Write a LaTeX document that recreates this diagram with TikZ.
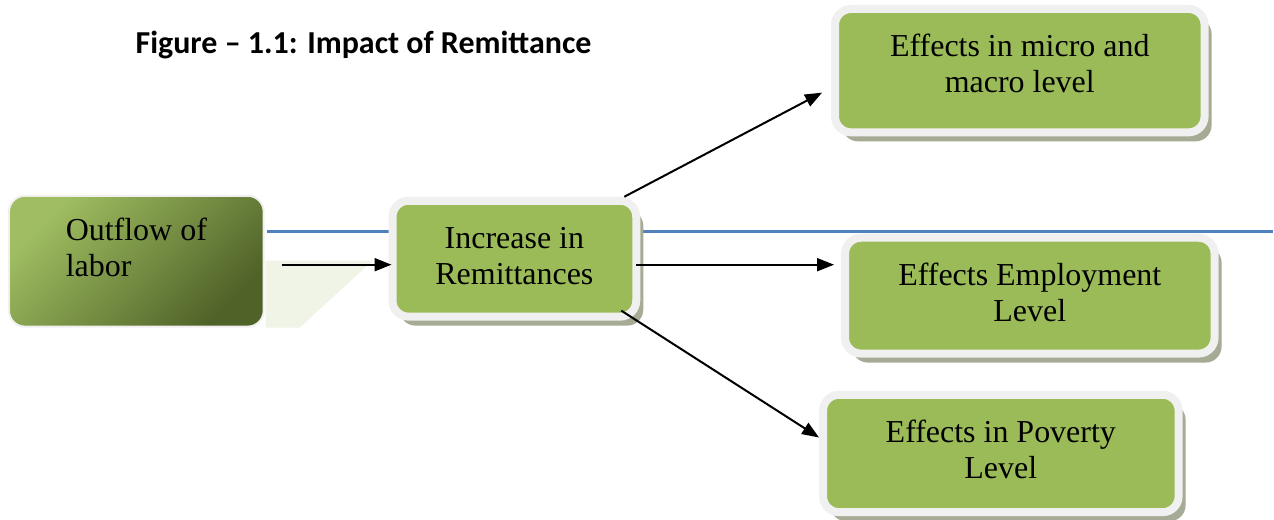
\documentclass[tikz,border=0pt]{standalone}
\usepackage{fontspec}
\setmainfont{Liberation Serif}
\newfontfamily\capfont{Carlito}
\usetikzlibrary{arrows.meta, shadows}

\definecolor{boxgreen}{RGB}{155,187,89}
\definecolor{darkolive}{RGB}{79,98,40}
\definecolor{framegray}{RGB}{240,240,240}
\definecolor{shadowgray}{RGB}{165,171,148}
\definecolor{lineblue}{RGB}{79,129,189}
\definecolor{glare}{RGB}{240,244,231}

\tikzset{
  effect box/.style =
    {
      rectangle, rounded corners=16pt, fill=boxgreen,
      draw=framegray, line width=8pt, inner sep=0pt, outer sep=0pt,
      align=center, font=\fontsize{32}{36}\selectfont,
      drop shadow={shadow xshift=7pt, shadow yshift=-9pt, fill=shadowgray, opacity=1}
    },
  flow/.style = {-{Triangle[length=17pt,width=13pt]}, line width=2pt}
}

\begin{document}
\begin{tikzpicture}[x=1pt, y=-1pt]
      \path[fill=white] (0,0) rectangle (1274,520);

      \node[font=\capfont\bfseries\fontsize{32}{38}\selectfont] (title) at (364,45) {Figure – 1.1: Impact of Remittance};

      \fill[glare] (266,261) -- (373,261) -- (300,328) -- (266,328) -- cycle;

      \node[rectangle, rounded corners=16pt, top color=boxgreen!95!white, bottom color=darkolive,
            shading angle=45, draw=framegray, line width=2pt, inner sep=0pt, outer sep=0pt,
            minimum width=255pt, minimum height=131pt, align=left, text depth=28pt,
            font=\fontsize{32}{36}\selectfont] (labor) at (136.5,261.5) {Outflow of\\labor};

      \coordinate (rim) at (1274,232);
      \draw[lineblue, line width=3pt] ([xshift=3pt]labor.east |- rim) -- (rim);

      \node[effect box, minimum width=244pt, minimum height=116pt, text depth=6pt] (remit) at (515,259) {Increase in\\Remittances};
      \node[effect box, minimum width=370pt, minimum height=123.5pt, text depth=14pt] (micro) at (1021,70.75) {Effects in micro and\\macro level};
      \node[effect box, minimum width=370pt, minimum height=116pt, text depth=6pt] (employ) at (1031,296) {Effects Employment\\Level};
      \node[effect box, minimum width=356pt, minimum height=117.5pt, text depth=8pt] (poverty) at (1002,454) {Effects in Poverty\\Level};

      \draw[flow] ([xshift=18pt,yshift=-3.5pt]labor.east) -- ([xshift=-1pt,yshift=-6pt]remit.west);
      \draw[flow] ([xshift=-12pt,yshift=4pt]remit.north east) -- ([xshift=-13pt,yshift=-22pt]micro.west);
      \draw[flow] ([yshift=-6pt]remit.east) -- ([xshift=-11pt,yshift=31pt]employ.west);
      \draw[flow] ([xshift=-15pt,yshift=6pt]remit.south east) -- ([xshift=-4pt,yshift=16pt]poverty.west);
\end{tikzpicture}
\end{document}
